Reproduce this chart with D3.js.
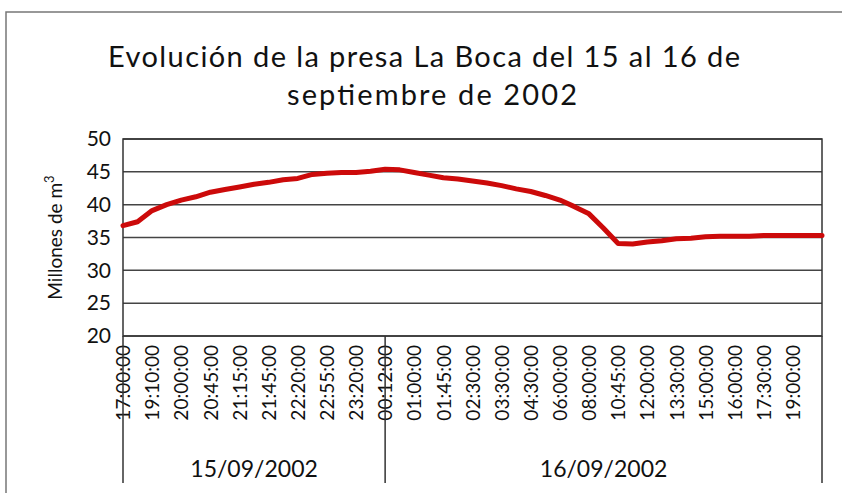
<!DOCTYPE html>
<html>
<head>
<meta charset="utf-8">
<script src="https://cdn.jsdelivr.net/npm/d3@7"></script>
<style>
  body { margin: 0; background: #fff; }
  svg text { font-family: "Century Gothic", "URW Gothic", Lato, sans-serif; fill: #111; }
</style>
</head>
<body>
<div id="chart"></div>
<script>
const WIDTH = 842;
const HEIGHT = 493;
const LEFT = 123;
const RIGHT = 822;
const TOP = 139;
const BOTTOM = 336;

// data
const volumes = [
  36.8, 37.4, 39.1, 40.0, 40.7, 41.2, 41.9, 42.3, 42.7, 43.1,
  43.4, 43.8, 44.0, 44.6, 44.8, 44.9, 44.9, 45.1, 45.4, 45.3,
  44.9, 44.5, 44.1, 43.9, 43.6, 43.3, 42.9, 42.4, 42.0, 41.4,
  40.7, 39.7, 38.6, 36.4, 34.1, 34.0, 34.3, 34.5, 34.8, 34.9,
  35.1, 35.2, 35.2, 35.2, 35.3, 35.3, 35.3, 35.3, 35.3
];
// every second category carries a label
const timeLabels = [
  "17:00:00", "19:10:00", "20:00:00", "20:45:00", "21:15:00", "21:45:00",
  "22:20:00", "22:55:00", "23:20:00", "00:12:00", "01:00:00", "01:45:00",
  "02:30:00", "03:30:00", "04:30:00", "06:00:00", "08:00:00", "10:45:00",
  "12:00:00", "13:30:00", "15:00:00", "16:00:00", "17:30:00", "19:00:00"
];
const days = ["15/09/2002", "16/09/2002"];
const dayStarts = [0, 18];
const yTicks = [20, 25, 30, 35, 40, 45, 50];

const svg = d3.select("#chart").append("svg")
  .attr("width", WIDTH)
  .attr("height", HEIGHT);

// outer frame
svg.append("rect")
  .attr("x", 6).attr("y", 12)
  .attr("width", 900).attr("height", 600)
  .attr("fill", "none")
  .attr("stroke", "#777")
  .attr("stroke-width", 1.5);

const x = d3.scalePoint()
  .domain(volumes.map((d, i) => i))
  .range([LEFT, RIGHT]);

const y = d3.scaleLinear()
  .domain([20, 50])
  .range([BOTTOM, TOP]);

// title
const title = svg.append("text")
  .attr("text-anchor", "middle")
  .attr("font-size", 29);
title.append("tspan").attr("x", 424).attr("y", 67)
  .attr("textLength", 632).attr("lengthAdjust", "spacing")
  .text("Evolución de la presa La Boca del 15 al 16 de");
title.append("tspan").attr("x", 432).attr("y", 105)
  .attr("textLength", 290).attr("lengthAdjust", "spacing")
  .text("septiembre de 2002");

// gridlines
svg.append("g")
  .selectAll("line")
  .data(yTicks)
  .join("line")
  .attr("x1", LEFT).attr("x2", RIGHT)
  .attr("y1", d => y(d)).attr("y2", d => y(d))
  .attr("stroke", "#444")
  .attr("stroke-width", 1.5);

// plot border
svg.append("rect")
  .attr("x", LEFT).attr("y", TOP)
  .attr("width", RIGHT - LEFT).attr("height", BOTTOM - TOP)
  .attr("fill", "none")
  .attr("stroke", "#333")
  .attr("stroke-width", 1.5);

// y axis
const yAxis = svg.append("g")
  .attr("transform", `translate(${LEFT},0)`)
  .call(d3.axisLeft(y).tickValues(yTicks).tickSize(0).tickPadding(12));
yAxis.select(".domain").remove();
yAxis.selectAll("text")
  .attr("font-size", 21)
  .attr("font-family", null);

svg.append("text")
  .attr("transform", `translate(62,${(TOP + BOTTOM) / 2}) rotate(-90)`)
  .attr("text-anchor", "middle")
  .attr("font-size", 19)
  .text("Millones de m")
  .append("tspan")
  .attr("dy", -8)
  .attr("font-size", 13)
  .text("3");

// x axis: time labels
const xAxis = svg.append("g")
  .attr("transform", `translate(0,${BOTTOM})`)
  .call(d3.axisBottom(x)
    .tickValues(d3.range(0, volumes.length, 2))
    .tickFormat(i => timeLabels[i / 2])
    .tickSize(0));
xAxis.select(".domain").remove();
xAxis.selectAll("text")
  .attr("font-size", 19)
  .attr("font-family", null)
  .attr("text-anchor", "end")
  .attr("transform", "rotate(-90)")
  .attr("x", -9)
  .attr("y", 0)
  .attr("dy", "0.35em");

// day group separators and labels
const bounds = [...dayStarts, volumes.length - 1];
svg.append("g")
  .selectAll("line")
  .data(bounds)
  .join("line")
  .attr("x1", d => x(d)).attr("x2", d => x(d))
  .attr("y1", BOTTOM).attr("y2", 483)
  .attr("stroke", "#333")
  .attr("stroke-width", 1.5);

svg.append("g")
  .selectAll("text")
  .data(days)
  .join("text")
  .attr("x", (d, i) => (x(bounds[i]) + x(bounds[i + 1])) / 2)
  .attr("y", 477)
  .attr("text-anchor", "middle")
  .attr("font-size", 23)
  .text(d => d);

// volume line
const line = d3.line()
  .x((d, i) => x(i))
  .y(d => y(d));

svg.append("path")
  .datum(volumes)
  .attr("d", line)
  .attr("fill", "none")
  .attr("stroke", "#cc0a0a")
  .attr("stroke-width", 5)
  .attr("stroke-linejoin", "round")
  .attr("stroke-linecap", "round");
</script>
</body>
</html>
